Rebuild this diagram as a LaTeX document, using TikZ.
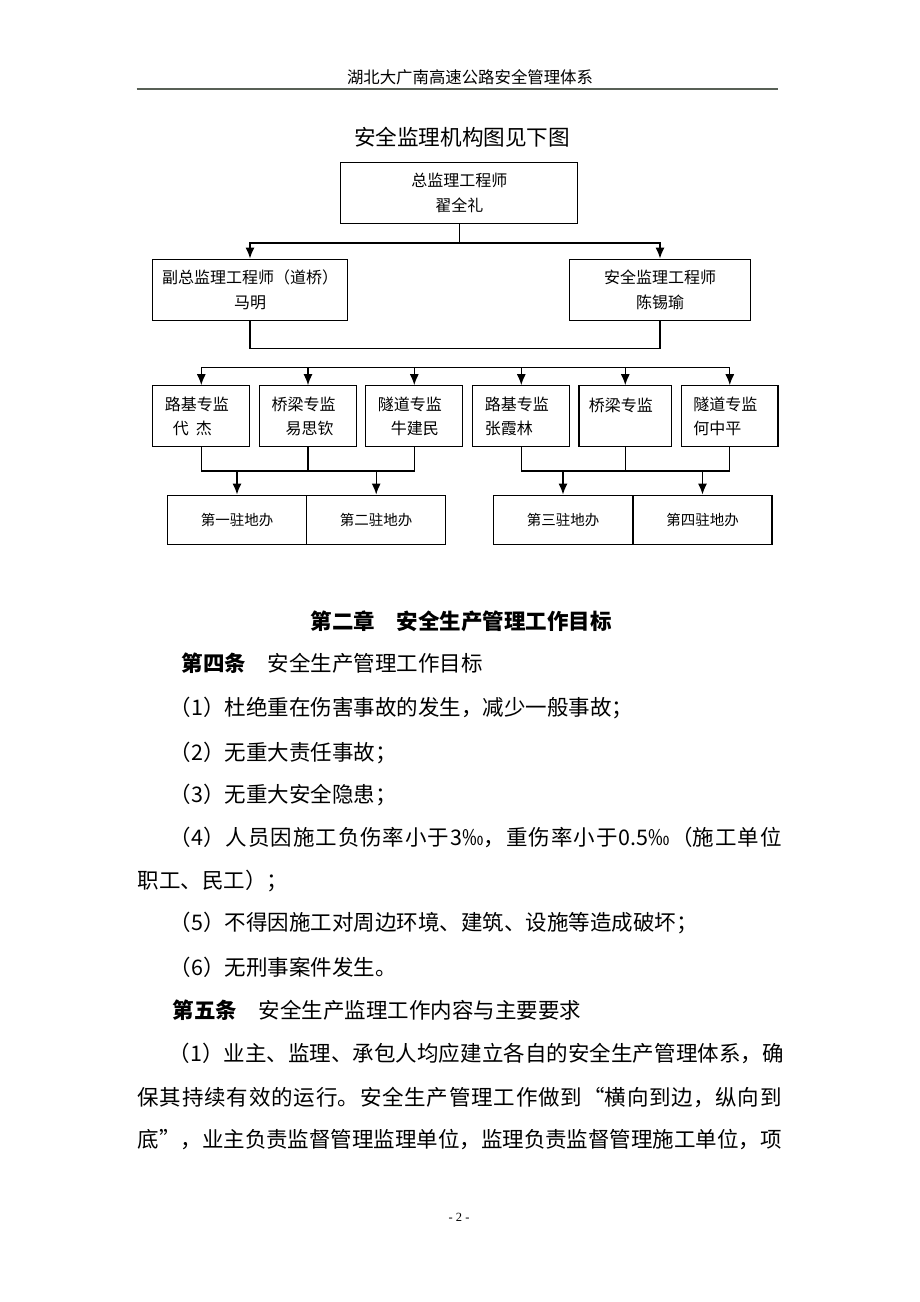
\documentclass[tikz,border=0pt]{standalone}
\usepackage{fontspec}
\usetikzlibrary{arrows.meta}
\setmainfont{Noto Sans CJK SC}
\newfontfamily\yema{Liberation Serif}
\XeTeXlinebreaklocale "zh"
\XeTeXlinebreakskip=0pt plus 2pt minus 0.5pt
\definecolor{yemei}{RGB}{88,96,86}
\newcommand\manhang[2]{\parbox{#1}{\parfillskip=0pt #2}}
\begin{document}
\begin{tikzpicture}[>={Latex[length=11pt,width=9pt]},x=1pt,y=-1pt,line width=1.3pt,
        kuang/.style={draw,align=center,inner sep=0pt,minimum height=61pt,font=\fontsize{16}{25}\selectfont},
        zhuanjian/.style={draw,align=left,text width=73pt,minimum width=97pt,minimum height=61pt,inner sep=0pt,font=\fontsize{16}{24}\selectfont},
        zhudi/.style={draw,minimum width=139pt,minimum height=49pt,inner sep=0pt,font=\fontsize{14.5}{18}\selectfont},
        hang/.style={anchor=west,inner sep=0pt,font=\fontsize{21.5}{26}\selectfont}]
        \useasboundingbox(0,0)rectangle(920,1302);
        \node[inner sep=0pt,font=\fontsize{16.4}{20}\selectfont](yemeitext)at(470,77.7){湖北大广南高速公路安全管理体系};
        \draw[yemei,line width=2pt](136.7,88.7)--(778,88.7);
        \node[inner sep=0pt,font=\fontsize{21.6}{26}\selectfont](biaoti)at(462,136.7){安全监理机构图见下图};
        \node[kuang,minimum width=237pt](zong)at(459.3,193.3){总监理工程师\\翟全礼};
        \node[kuang,minimum width=195pt](fuzong)at(250,289.7){副总监理工程师（道桥）\\马明};
        \node[kuang,minimum width=181.4pt](anquan)at(660,289.7){安全监理工程师\\陈锡瑜};
        \draw[->](zong.south)--++(0,18.4)-|(fuzong.north);
        \draw[->](zong.south)--++(0,18.4)-|(anquan.north);
        \draw(fuzong.south)--++(0,27.3)-|(anquan.south);
        \node[zhuanjian](zj1)at(201.3,416.3){路基专监\\\hspace{8pt}代\hspace{7pt}杰};
        \node[zhuanjian](zj2)at(308,416.3){桥梁专监\\\hspace{14pt}易思钦};
        \node[zhuanjian](zj3)at(414.3,416.3){隧道专监\\\hspace{13pt}牛建民};
        \node[zhuanjian](zj4)at(521.3,416.3){路基专监\\张霞林};
        \node[zhuanjian,minimum width=92.7pt](zj5)at(625.3,416.3){桥梁专监\\~};
        \node[zhuanjian,minimum width=96.3pt](zj6)at(729.8,416.3){隧道专监\\何中平};
        \coordinate(fenfa)at(0,367.7);
        \draw(zj1.north|-fenfa)--(zj6.north|-fenfa);
        \draw[->](zj1.north|-fenfa)--(zj1.north);
        \draw[->](zj2.north|-fenfa)--(zj2.north);
        \draw[->](zj3.north|-fenfa)--(zj3.north);
        \draw[->](zj4.north|-fenfa)--(zj4.north);
        \draw[->](zj5.north|-fenfa)--(zj5.north);
        \draw[->](zj6.north|-fenfa)--(zj6.north);
        \node[zhudi](zd1)at(237,519.7){第一驻地办};
        \node[zhudi](zd2)at(376.2,519.7){第二驻地办};
        \node[zhudi](zd3)at(563,519.7){第三驻地办};
        \node[zhudi](zd4)at(702.5,519.7){第四驻地办};
        \coordinate(huizong)at(0,471);
        \draw(zj1.south)--(zj1.south|-huizong)--(zj3.south|-huizong)--(zj3.south);
        \draw(zj2.south)--(zj2.south|-huizong);
        \draw(zj4.south)--(zj4.south|-huizong)--(zj6.south|-huizong)--(zj6.south);
        \draw(zj5.south)--(zj5.south|-huizong);
        \draw[->](zd1.north|-huizong)--(zd1.north);
        \draw[->](zd2.north|-huizong)--(zd2.north);
        \draw[->](zd3.north|-huizong)--(zd3.north);
        \draw[->](zd4.north|-huizong)--(zd4.north);
        \node[inner sep=0pt,font=\fontsize{21.5}{26}\selectfont\bfseries](zhang)at(461,621.7){第二章\quad 安全生产管理工作目标};
        \node[hang](t4)at(181,663){\textbf{第四条}\quad 安全生产管理工作目标};
        \node[hang](m1)at(169,708){（1）杜绝重在伤害事故的发生，减少一般事故；};
        \node[hang](m2)at(169,753){（2）无重大责任事故；};
        \node[hang](m3)at(169,795){（3）无重大安全隐患；};
        \node[hang](m4)at(169,837){\manhang{612pt}{（4）人员因施工负伤率小于3‰，重伤率小于0.5‰（施工单位}};
        \node[hang](m4b)at(137,881){职工、民工）；};
        \node[hang](m5)at(169,923){（5）不得因施工对周边环境、建筑、设施等造成破坏；};
        \node[hang](m6)at(169,967){（6）无刑事案件发生。};
        \node[hang](t5)at(172,1010){\textbf{第五条}\quad 安全生产监理工作内容与主要要求};
        \node[hang](y1)at(168,1053){\manhang{615pt}{（1）业主、监理、承包人均应建立各自的安全生产管理体系，确}};
        \node[hang](y2)at(137,1097){\manhang{644pt}{保其持续有效的运行。安全生产管理工作做到“横向到边，纵向到}};
        \node[hang](y3)at(137,1140){\manhang{644pt}{底”，业主负责监督管理监理单位，监理负责监督管理施工单位，项}};
        \node[inner sep=0pt,font=\yema\fontsize{12.5}{14}\selectfont](yema)at(459,1217){- 2 -};
    \end{tikzpicture}
\end{document}
